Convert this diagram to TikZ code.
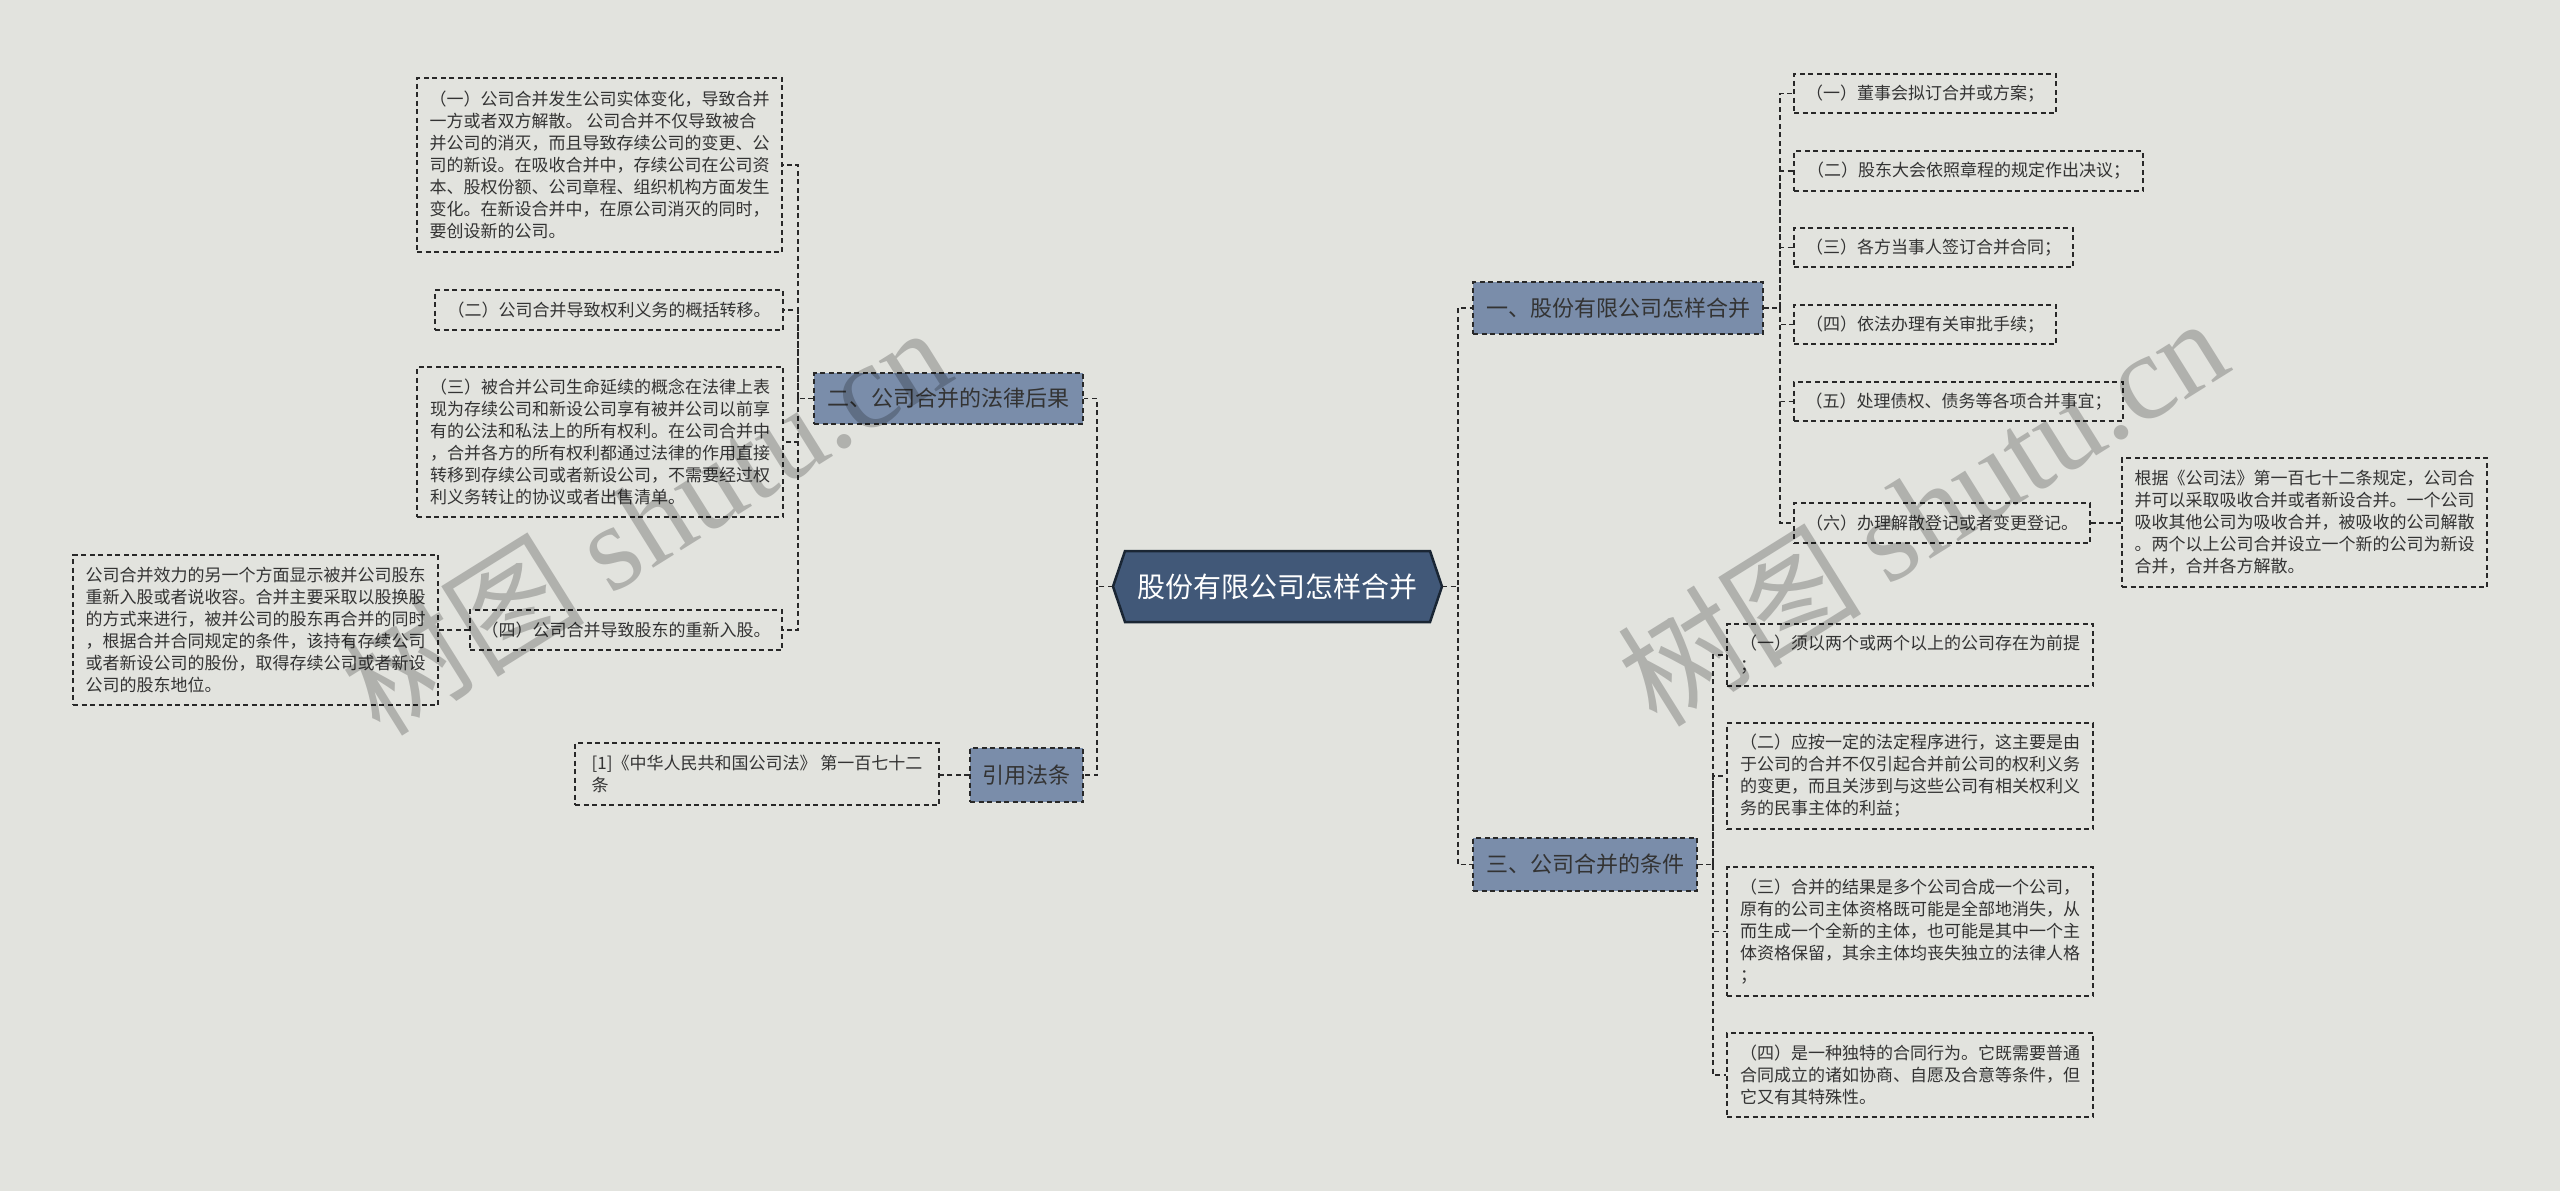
\documentclass[tikz,border=0pt]{standalone}
\usepackage{fontspec}
\setmainfont{Noto Sans CJK SC}
\newfontfamily\wmserif{Liberation Serif}
\definecolor{bgc}{RGB}{226,227,222}
\definecolor{linec}{RGB}{40,40,40}
\definecolor{textc}{RGB}{51,51,51}
\definecolor{branchc}{RGB}{122,141,170}
\definecolor{centc}{RGB}{65,88,120}
\definecolor{centb}{RGB}{26,38,52}
\begin{document}
\begin{tikzpicture}[x=1pt,y=-1pt,
  leaf/.style={draw=linec, line width=1.4pt, dash pattern=on 5pt off 3.5pt,
    inner xsep=10pt, inner ysep=0pt, align=left,
    font=\fontsize{17}{22}\selectfont, text=textc},
  branch/.style={draw=linec, fill=branchc, line width=1.4pt, dash pattern=on 5pt off 3.5pt,
    inner sep=0pt, font=\fontsize{22}{26}\selectfont, text=textc},
  conn/.style={draw=linec, line width=1.4pt, dash pattern=on 5pt off 3.5pt},
  wm/.style={rotate=32, text=black, text opacity=0.22, inner sep=0pt,
    font=\fontsize{122}{122}\selectfont}]
\fill[bgc] (0,0) rectangle (2560,1191);
\useasboundingbox (0,0) rectangle (2560,1191);

% central node
\fill[centc, draw=centb, line width=2.5pt] (1113,586.5) -- (1125,551) -- (1430,551) -- (1442,586.5) -- (1430,622) -- (1125,622) -- cycle;
\node[minimum width=329pt, minimum height=71pt, inner sep=0pt, text=white,
  font=\fontsize{28}{34}\selectfont] (c) at (1277.5,586.5) {股份有限公司怎样合并};

% branches
\node[branch, minimum width=290pt, minimum height=52pt] (B1) at (1618,308) {一、股份有限公司怎样合并};
\node[branch, minimum width=269pt, minimum height=51pt] (B2) at (948.5,398.5) {二、公司合并的法律后果};
\node[branch, minimum width=224pt, minimum height=53pt] (B3) at (1585,864.5) {三、公司合并的条件};
\node[branch, minimum width=113pt, minimum height=54pt] (B4) at (1026.5,775) {引用法条};

% left leaves
\node[leaf, minimum width=365pt, minimum height=174pt] (L1) at (599.5,165) {（一）公司合并发生公司实体变化，导致合并\\一方或者双方解散。 公司合并不仅导致被合\\并公司的消灭，而且导致存续公司的变更、公\\司的新设。在吸收合并中，存续公司在公司资\\本、股权份额、公司章程、组织机构方面发生\\变化。在新设合并中，在原公司消灭的同时，\\要创设新的公司。};
\node[leaf, minimum width=348pt, minimum height=40pt] (L2) at (609,310) {（二）公司合并导致权利义务的概括转移。};
\node[leaf, minimum width=366pt, minimum height=150pt] (L3) at (600,442) {（三）被合并公司生命延续的概念在法律上表\\现为存续公司和新设公司享有被并公司以前享\\有的公法和私法上的所有权利。在公司合并中\\，合并各方的所有权利都通过法律的作用直接\\转移到存续公司或者新设公司，不需要经过权\\利义务转让的协议或者出售清单。};
\node[leaf, minimum width=312pt, minimum height=40pt] (L4) at (626,630) {（四）公司合并导致股东的重新入股。};
\node[leaf, minimum width=365pt, minimum height=150pt] (L5) at (255.5,630) {公司合并效力的另一个方面显示被并公司股东\\重新入股或者说收容。合并主要采取以股换股\\的方式来进行，被并公司的股东再合并的同时\\，根据合并合同规定的条件，该持有存续公司\\或者新设公司的股份，取得存续公司或者新设\\公司的股东地位。};
\node[leaf, minimum width=364pt, minimum height=62pt] (Q) at (757,774) {[1]《中华人民共和国公司法》 第一百七十二\\条};

% right leaves (branch 1)
\node[leaf, minimum width=262pt, minimum height=39pt] (R1) at (1925,93.5) {（一）董事会拟订合并或方案；};
\node[leaf, minimum width=349pt, minimum height=40pt] (R2) at (1968.5,171) {（二）股东大会依照章程的规定作出决议；};
\node[leaf, minimum width=279pt, minimum height=39pt] (R3) at (1933.5,247.5) {（三）各方当事人签订合并合同；};
\node[leaf, minimum width=262pt, minimum height=39pt] (R4) at (1925,324.5) {（四）依法办理有关审批手续；};
\node[leaf, minimum width=329pt, minimum height=39pt] (R5) at (1958.5,401.5) {（五）处理债权、债务等各项合并事宜；};
\node[leaf, minimum width=296pt, minimum height=40pt] (R6) at (1942,523) {（六）办理解散登记或者变更登记。};
\node[leaf, minimum width=365pt, minimum height=129pt] (R7) at (2304.5,522.5) {根据《公司法》第一百七十二条规定，公司合\\并可以采取吸收合并或者新设合并。一个公司\\吸收其他公司为吸收合并，被吸收的公司解散\\。两个以上公司合并设立一个新的公司为新设\\合并，合并各方解散。};

% right leaves (branch 3)
\node[leaf, minimum width=366pt, minimum height=62pt] (T1) at (1910,655) {（一）须以两个或两个以上的公司存在为前提\\；};
\node[leaf, minimum width=366pt, minimum height=106pt] (T2) at (1910,776) {（二）应按一定的法定程序进行，这主要是由\\于公司的合并不仅引起合并前公司的权利义务\\的变更，而且关涉到与这些公司有相关权利义\\务的民事主体的利益；};
\node[leaf, minimum width=366pt, minimum height=129pt] (T3) at (1910,931.5) {（三）合并的结果是多个公司合成一个公司，\\原有的公司主体资格既可能是全部地消失，从\\而生成一个全新的主体，也可能是其中一个主\\体资格保留，其余主体均丧失独立的法律人格\\；};
\node[leaf, minimum width=366pt, minimum height=84pt] (T4) at (1910,1075) {（四）是一种独特的合同行为。它既需要普通\\合同成立的诸如协商、自愿及合意等条件，但\\它又有其特殊性。};

% junction coordinates
\coordinate (jR) at (1458,586.5);
\coordinate (jL) at (1097,586.5);
\coordinate (jB1) at (1780,308);
\coordinate (jB2) at (798,398.5);
\coordinate (jB3) at (1713,864.5);

% connectors
\draw[conn] (c.east) -- (jR) |- (B1.west);
\draw[conn] (jR) |- (B3.west);
\draw[conn] (c.west) -- (jL) |- (B2.east);
\draw[conn] (jL) |- (B4.east);
\draw[conn] (B1.east) -- (jB1) |- (R1.west);
\foreach \n in {R2,R3,R4,R5,R6} \draw[conn] (jB1) |- (\n.west);
\draw[conn] (R6.east) -- (R6.east -| R7.west);
\draw[conn] (B2.west) -- (jB2) |- (L1.east);
\foreach \n in {L2,L3,L4} \draw[conn] (jB2) |- (\n.east);
\draw[conn] (L4.west) -- (L4.west -| L5.east);
\draw[conn] (B4.west) -- (B4.west -| Q.east);
\draw[conn] (B3.east) -- (jB3) |- (T1.west);
\foreach \n in {T2,T3,T4} \draw[conn] (jB3) |- (\n.west);

% watermarks
\node[wm] (wm1) at (645,519) {树图 {\wmserif shutu.cn}};
\node[wm] (wm2) at (1922,510) {树图 {\wmserif shutu.cn}};
\end{tikzpicture}
\end{document}
